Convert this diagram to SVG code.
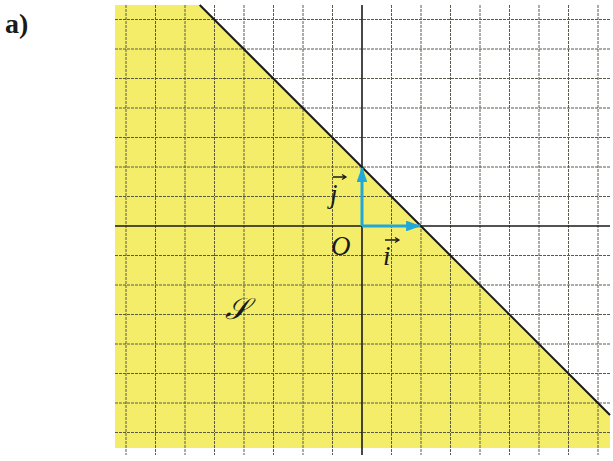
<svg xmlns="http://www.w3.org/2000/svg" width="613" height="461" viewBox="0 0 613 461">
<defs>
<style>
.grid line{stroke:#5a5a4e;stroke-width:1;stroke-dasharray:3 1}
.axis{stroke:#1a1a1a;stroke-width:1.6}
.vec{stroke:#22a8d8;stroke-width:3;fill:none}
.lbl{font-family:"Liberation Serif",serif;font-style:italic;fill:#1a1a1a}
</style>
<marker id="ah" viewBox="0 0 14 10" refX="13" refY="5" markerWidth="5" markerHeight="3.6" orient="auto" markerUnits="strokeWidth">
<path d="M0,0 L14,5 L0,10 Z" fill="#22a8d8"/>
</marker>
</defs>
<rect width="613" height="461" fill="#ffffff"/>
<g id="region">
<polygon points="115,5 199.7,5 610,415 610,448 115,448" fill="#f4ed6a"/>
</g>
<g id="grid" class="grid">
<line x1="126" y1="5" x2="126" y2="455"/>
<line x1="155.5" y1="5" x2="155.5" y2="455"/>
<line x1="185" y1="5" x2="185" y2="455"/>
<line x1="214.5" y1="5" x2="214.5" y2="455"/>
<line x1="244" y1="5" x2="244" y2="455"/>
<line x1="273.5" y1="5" x2="273.5" y2="455"/>
<line x1="303" y1="5" x2="303" y2="455"/>
<line x1="332.5" y1="5" x2="332.5" y2="455"/>
<line x1="391.5" y1="5" x2="391.5" y2="455"/>
<line x1="421" y1="5" x2="421" y2="455"/>
<line x1="450.5" y1="5" x2="450.5" y2="455"/>
<line x1="480" y1="5" x2="480" y2="455"/>
<line x1="509.5" y1="5" x2="509.5" y2="455"/>
<line x1="539" y1="5" x2="539" y2="455"/>
<line x1="568.5" y1="5" x2="568.5" y2="455"/>
<line x1="598" y1="5" x2="598" y2="455"/>
<line x1="115" y1="19.5" x2="610" y2="19.5"/>
<line x1="115" y1="49" x2="610" y2="49"/>
<line x1="115" y1="78.5" x2="610" y2="78.5"/>
<line x1="115" y1="108" x2="610" y2="108"/>
<line x1="115" y1="137.5" x2="610" y2="137.5"/>
<line x1="115" y1="167" x2="610" y2="167"/>
<line x1="115" y1="196.5" x2="610" y2="196.5"/>
<line x1="115" y1="255.5" x2="610" y2="255.5"/>
<line x1="115" y1="285" x2="610" y2="285"/>
<line x1="115" y1="314.5" x2="610" y2="314.5"/>
<line x1="115" y1="344" x2="610" y2="344"/>
<line x1="115" y1="373.5" x2="610" y2="373.5"/>
<line x1="115" y1="403" x2="610" y2="403"/>
<line x1="115" y1="432.5" x2="610" y2="432.5"/>
</g>
<g id="connectors">
<line class="axis" x1="362" y1="5" x2="362" y2="455"/>
<line class="axis" x1="115" y1="226" x2="610" y2="226"/>
<line x1="199.7" y1="5" x2="610" y2="415" stroke="#1a1a1a" stroke-width="2"/>
<line class="vec" x1="362" y1="226" x2="362" y2="168" marker-end="url(#ah)"/>
<line class="vec" x1="362" y1="226" x2="420" y2="226" marker-end="url(#ah)"/>
<path d="M333,177 L346,177 M342,174.5 L346,177 L342,179.5" stroke="#1a1a1a" stroke-width="1.3" fill="none"/>
<path d="M385,240 L399,240 M395,237.5 L399,240 L395,242.5" stroke="#1a1a1a" stroke-width="1.3" fill="none"/>
</g>
<g id="labels">
<text x="5" y="33" font-family="Liberation Serif,serif" font-weight="bold" font-size="28" fill="#1a1a1a">a)</text>
<text id="lbl-j" class="lbl" x="330" y="203" font-size="27">j</text>
<text id="lbl-O" class="lbl" x="331" y="255" font-size="27">O</text>
<text id="lbl-i" class="lbl" x="383" y="265" font-size="27">i</text>
<text id="lbl-S" x="225" y="319" font-family="DejaVu Serif,Noto Sans,serif" font-style="italic" font-size="30" fill="#1a1a1a">𝒮</text>
</g>
</svg>
